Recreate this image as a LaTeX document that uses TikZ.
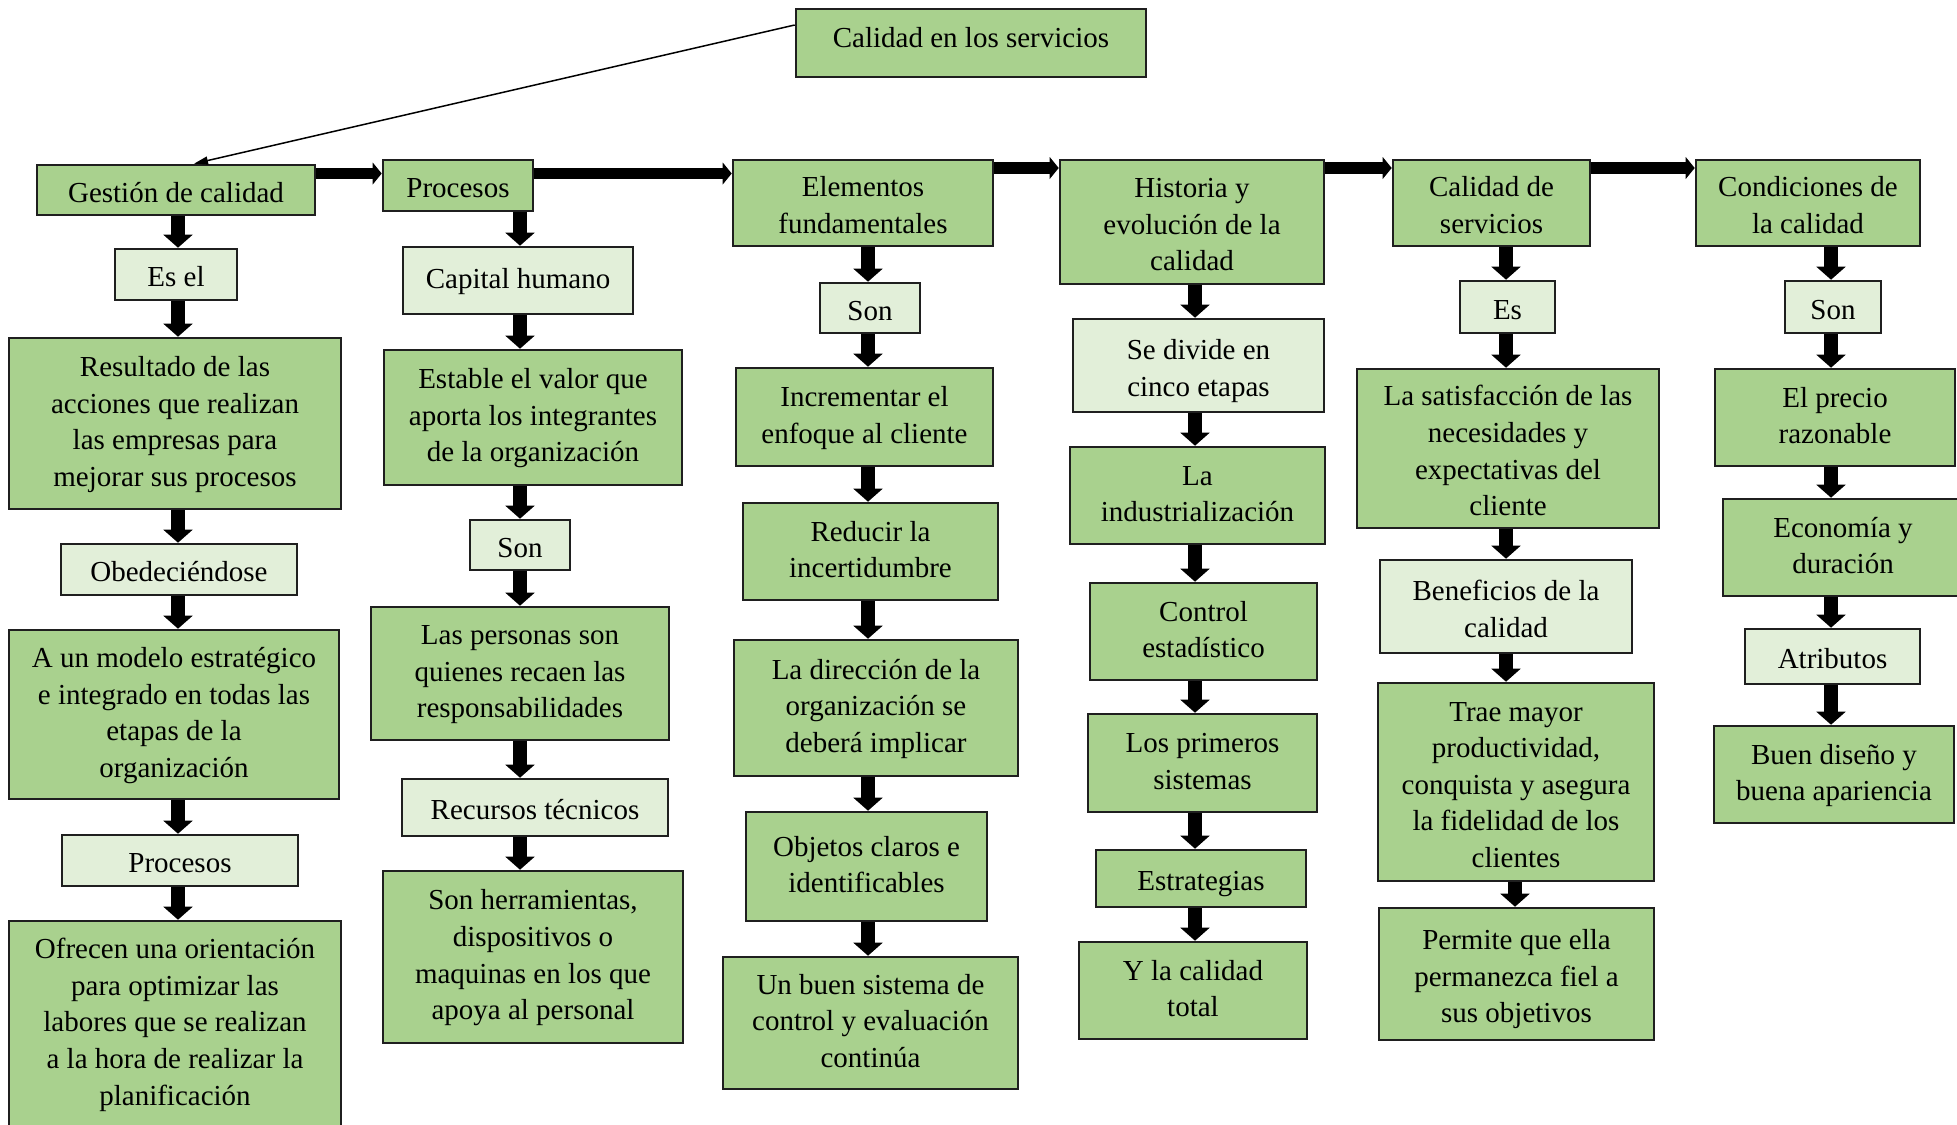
\documentclass[tikz,border=0pt]{standalone}
\usepackage{fontspec}
\setmainfont{Liberation Serif}
\usepackage{tikz}
\usetikzlibrary{arrows.meta}
\definecolor{verde}{HTML}{A9D18E}
\definecolor{verdeclaro}{HTML}{E2EFD9}
% text blocks of the boxes: lines as in the word processor
\newcommand{\bloque}[1]{\begin{tabular}{@{}c@{}}\rule{0pt}{17.74pt}#1\end{tabular}}
\newcommand{\cuerpo}[1]{\begin{tabular}{@{}c@{}}\rule{0pt}{13.3pt}#1\end{tabular}}
\newcommand{\bloquetop}[1]{\begin{tabular}{@{}c@{}}#1\rule[-8.11pt]{0pt}{0pt}\end{tabular}}

\begin{document}
\begin{tikzpicture}[
    x=0.5pt, y=-0.5pt,
    % --- box styles ---
    box/.style={draw=black!88, line width=1.3pt, fill=verde, inner sep=0pt,
                font=\fontsize{14.5}{18.3}\selectfont},
    lbox/.style={box, fill=verdeclaro},
    sz/.style 2 args={minimum width=#1*0.5pt, minimum height=#2*0.5pt},
    % --- arrow styles ---
    varr/.style={-{Triangle[width=14.7pt, length=6.5pt, line width=0pt]}, line width=7pt},
    harr/.style={-{Triangle[width=11pt, length=4.5pt, line width=0pt]}, line width=5.75pt},
    tarr/.style={-{Triangle[width=4pt, length=7pt]}, line width=0.75pt},
]

%% page frame (px of the reference, y downwards)
\clip (0,0) rectangle (1957,1124);

%% ---- TOP ----
\node[box, sz={350}{68}] (cal) at (971,43) {\bloquetop{Calidad en los servicios}};

%% ---- COLUMN 1 : GESTION ----
\node[box,  sz={278}{50}]  (gest)  at (176,190)    {\bloque{Gestión de calidad}};
\node[lbox, sz={122}{51}]  (esel)  at (176,274.5)  {\bloque{Es el}};
\node[box,  sz={332}{171}] (res)   at (175,423.5)
    {\cuerpo{Resultado de las\\acciones que realizan\\las empresas para\\mejorar sus procesos}};
\node[lbox, sz={236}{51}]  (obed)  at (179,569.5)  {\bloque{Obedeciéndose}};
\node[box,  sz={330}{169}] (mod)   at (174,714.5)
    {\cuerpo{A un modelo estratégico\\e integrado en todas las\\etapas de la\\organización}};
\node[lbox, sz={236}{51}]  (proc1) at (180,860.5)  {\bloque{Procesos}};
\node[box,  sz={332}{206}] (ofr)   at (175,1024)
    {\cuerpo{Ofrecen una orientación\\para optimizar las\\labores que se realizan\\a la hora de realizar la\\planificación}};

%% ---- COLUMN 2 : PROCESOS ----
\node[box,  sz={150}{51}]  (proch) at (458,185.5)  {\bloque{Procesos}};
\node[lbox, sz={230}{67}]  (cap)   at (518,280.5)  {\cuerpo{Capital humano}};
\node[box,  sz={298}{135}] (est)   at (533,417.5)
    {\cuerpo{Estable el valor que\\aporta los integrantes\\de la organización}};
\node[lbox, sz={100}{50}]  (son2)  at (520,545)    {\bloque{Son}};
\node[box,  sz={298}{133}] (pers)  at (520,673.5)
    {\cuerpo{Las personas son\\quienes recaen las\\responsabilidades}};
\node[lbox, sz={266}{57}]  (rec)   at (535,807.5)  {\bloque{Recursos técnicos}};
\node[box,  sz={300}{172}] (herr)  at (533,957)
    {\cuerpo{Son herramientas,\\dispositivos o\\maquinas en los que\\apoya al personal}};

%% ---- COLUMN 3 : ELEMENTOS ----
\node[box,  sz={260}{86}]  (elem)  at (863,203)    {\bloque{Elementos\\fundamentales}};
\node[lbox, sz={100}{50}]  (son3)  at (870,308)    {\bloque{Son}};
\node[box,  sz={257}{98}]  (inc)   at (864.5,417)  {\cuerpo{Incrementar el\\enfoque al cliente}};
\node[box,  sz={255}{97}]  (red)   at (870.5,551.5) {\cuerpo{Reducir la\\incertidumbre}};
\node[box,  sz={284}{136}] (dir)   at (876,708)
    {\cuerpo{La dirección de la\\organización se\\deberá implicar}};
\node[box,  sz={241}{109}] (obj)   at (866.5,866.5) {\cuerpo{Objetos claros e\\identificables}};
\node[box,  sz={295}{132}] (sis)   at (870.5,1023)
    {\cuerpo{Un buen sistema de\\control y evaluación\\continúa}};

%% ---- COLUMN 4 : HISTORIA ----
\node[box,  sz={264}{124}] (hist)  at (1192,222)
    {\bloque{Historia y\\evolución de la\\calidad}};
\node[lbox, sz={251}{93}]  (div)   at (1198.5,365.5) {\bloque{Se divide en\\cinco etapas}};
\node[box,  sz={255}{97}]  (ind)   at (1197.5,495.5) {\cuerpo{La\\industrialización}};
\node[box,  sz={227}{97}]  (ctrl)  at (1203.5,631.5) {\cuerpo{Control\\estadístico}};
\node[box,  sz={229}{98}]  (sist)  at (1202.5,763)   {\cuerpo{Los primeros\\sistemas}};
\node[box,  sz={210}{57}]  (estr)  at (1201,878.5)   {\bloque{Estrategias}};
\node[box,  sz={228}{97}]  (tot)   at (1193,990.5)   {\cuerpo{Y la calidad\\total}};

%% ---- COLUMN 5 : CALIDAD DE SERVICIOS ----
\node[box,  sz={197}{86}]  (cals)  at (1491.5,203)  {\bloque{Calidad de\\servicios}};
\node[lbox, sz={95}{52}]   (es5)   at (1507.5,307)  {\bloque{Es}};
\node[box,  sz={302}{159}] (sat)   at (1508,448.5)
    {\bloque{La satisfacción de las\\necesidades y\\expectativas del\\cliente}};
\node[lbox, sz={252}{93}]  (ben)   at (1506,606.5)  {\bloque{Beneficios de la\\calidad}};
\node[box,  sz={276}{198}] (trae)  at (1516,782)
    {\bloque{Trae mayor\\productividad,\\conquista y asegura\\la fidelidad de los\\clientes}};
\node[box,  sz={275}{132}] (perm)  at (1516.5,974)
    {\bloque{Permite que ella\\permanezca fiel a\\sus objetivos}};

%% ---- COLUMN 6 : CONDICIONES ----
\node[box,  sz={224}{86}]  (cond)  at (1808,203)    {\bloque{Condiciones de\\la calidad}};
\node[lbox, sz={96}{52}]   (son6)  at (1833,307)    {\bloque{Son}};
\node[box,  sz={240}{97}]  (prec)  at (1835,417.5)  {\cuerpo{El precio\\razonable}};
\node[box,  sz={240}{97}]  (eco)   at (1843,547.5)  {\cuerpo{Economía y\\duración}};
\node[lbox, sz={175}{55}]  (atr)   at (1832.5,656.5) {\bloque{Atributos}};
\node[box,  sz={240}{97}]  (dis)   at (1834,774.5)  {\cuerpo{Buen diseño y\\buena apariencia}};

%% =====================================================================
%%  ARROWS
%% =====================================================================
\coordinate (ra) at (0,173.5);
\coordinate (rb) at (0,168);
\coordinate (k1) at (178,0);
\coordinate (k2) at (520,0);
\coordinate (k3) at (868,0);
\coordinate (k4) at (1195,0);
\coordinate (k5) at (1506,0);
\coordinate (k5b) at (1515,0);
\coordinate (k6) at (1831,0);

%% --- top box -> Gestion ---
\draw[tarr] ([yshift=9pt]cal.west) -- ([xshift=9pt]gest.north);

%% --- header row ---
\draw[harr] (gest.east |- ra) -- (proch.west |- ra);
\draw[harr] (proch.east |- ra) -- (elem.west |- ra);
\draw[harr] (elem.east |- rb) -- (hist.west |- rb);
\draw[harr] (hist.east |- rb) -- (cals.west |- rb);
\draw[harr] (cals.east |- rb) -- (cond.west |- rb);

%% --- column 1 ---
\draw[varr] (gest.south -| k1)  -- (esel.north -| k1);
\draw[varr] (esel.south -| k1)  -- (res.north -| k1);
\draw[varr] (res.south -| k1)   -- (obed.north -| k1);
\draw[varr] (obed.south -| k1)  -- (mod.north -| k1);
\draw[varr] (mod.south -| k1)   -- (proc1.north -| k1);
\draw[varr] (proc1.south -| k1) -- (ofr.north -| k1);

%% --- column 2 ---
\draw[varr] (proch.south -| k2) -- (cap.north -| k2);
\draw[varr] (cap.south -| k2)   -- (est.north -| k2);
\draw[varr] (est.south -| k2)   -- (son2.north -| k2);
\draw[varr] (son2.south -| k2)  -- (pers.north -| k2);
\draw[varr] (pers.south -| k2)  -- (rec.north -| k2);
\draw[varr] (rec.south -| k2)   -- (herr.north -| k2);

%% --- column 3 ---
\draw[varr] (elem.south -| k3) -- (son3.north -| k3);
\draw[varr] (son3.south -| k3) -- (inc.north -| k3);
\draw[varr] (inc.south -| k3)  -- (red.north -| k3);
\draw[varr] (red.south -| k3)  -- (dir.north -| k3);
\draw[varr] (dir.south -| k3)  -- (obj.north -| k3);
\draw[varr] (obj.south -| k3)  -- (sis.north -| k3);

%% --- column 4 ---
\draw[varr] (hist.south -| k4) -- (div.north -| k4);
\draw[varr] (div.south -| k4)  -- (ind.north -| k4);
\draw[varr] (ind.south -| k4)  -- (ctrl.north -| k4);
\draw[varr] (ctrl.south -| k4) -- (sist.north -| k4);
\draw[varr] (sist.south -| k4) -- (estr.north -| k4);
\draw[varr] (estr.south -| k4) -- (tot.north -| k4);

%% --- column 5 ---
\draw[varr] (cals.south -| k5) -- (es5.north -| k5);
\draw[varr] (es5.south -| k5)  -- (sat.north -| k5);
\draw[varr] (sat.south -| k5)  -- (ben.north -| k5);
\draw[varr] (ben.south -| k5)  -- (trae.north -| k5);
\draw[varr] (trae.south -| k5b) -- (perm.north -| k5b);

%% --- column 6 ---
\draw[varr] (cond.south -| k6) -- (son6.north -| k6);
\draw[varr] (son6.south -| k6) -- (prec.north -| k6);
\draw[varr] (prec.south -| k6) -- (eco.north -| k6);
\draw[varr] (eco.south -| k6)  -- (atr.north -| k6);
\draw[varr] (atr.south -| k6)  -- (dis.north -| k6);

\end{tikzpicture}
\end{document}
